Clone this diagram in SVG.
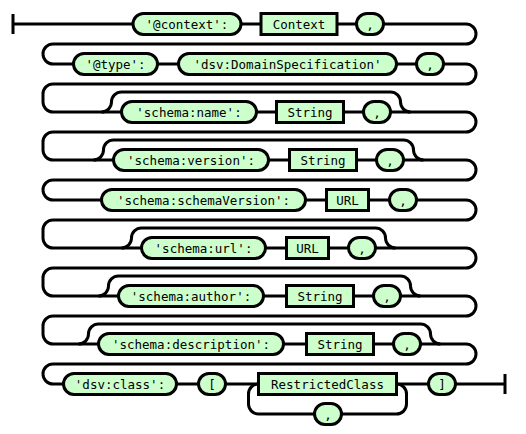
<svg xmlns="http://www.w3.org/2000/svg" width="526" height="434" viewBox="0 0 526 434">
<style>
.c path{fill:none;stroke:#000;stroke-width:3}
.t rect,.n rect{fill:#ccffcc;stroke:#000;stroke-width:3}
text{font-family:"DejaVu Sans Mono","Liberation Mono",monospace;font-size:12.5px;fill:#000;text-anchor:middle}
</style>
<rect width="526" height="434" fill="#fff"/>
<g id="connectors" class="c">
<path d="M13,14 V34 M505,374 V394"/>
<path d="M13,24 H466 a10,10 0 0 1 10,10 a10,10 0 0 1 -10,10 H53 a10,10 0 0 0 -10,10 a10,10 0 0 0 10,10
H466 a10,10 0 0 1 10,10 a10,10 0 0 1 -10,10 H53 a10,10 0 0 0 -10,10 V102 a10,10 0 0 0 10,10
H466 a10,10 0 0 1 10,10 a10,10 0 0 1 -10,10 H53 a10,10 0 0 0 -10,10 V150 a10,10 0 0 0 10,10
H466 a10,10 0 0 1 10,10 a10,10 0 0 1 -10,10 H53 a10,10 0 0 0 -10,10 a10,10 0 0 0 10,10
H466 a10,10 0 0 1 10,10 a10,10 0 0 1 -10,10 H53 a10,10 0 0 0 -10,10 V238 a10,10 0 0 0 10,10
H466 a10,10 0 0 1 10,10 a10,10 0 0 1 -10,10 H53 a10,10 0 0 0 -10,10 V286 a10,10 0 0 0 10,10
H466 a10,10 0 0 1 10,10 a10,10 0 0 1 -10,10 H53 a10,10 0 0 0 -10,10 V334 a10,10 0 0 0 10,10
H466 a10,10 0 0 1 10,10 a10,10 0 0 1 -10,10 H53 a10,10 0 0 0 -10,10 a10,10 0 0 0 10,10
H505"/>
<path d="M101.5,112 a10,10 0 0 0 10,-10 a10,10 0 0 1 10,-10 H390.5 a10,10 0 0 1 10,10 a10,10 0 0 0 10,10"/>
<path d="M93.5,160 a10,10 0 0 0 10,-10 a10,10 0 0 1 10,-10 H403.5 a10,10 0 0 1 10,10 a10,10 0 0 0 10,10"/>
<path d="M121.5,248 a10,10 0 0 0 10,-10 a10,10 0 0 1 10,-10 H375.5 a10,10 0 0 1 10,10 a10,10 0 0 0 10,10"/>
<path d="M98.5,296 a10,10 0 0 0 10,-10 a10,10 0 0 1 10,-10 H400.5 a10,10 0 0 1 10,10 a10,10 0 0 0 10,10"/>
<path d="M78.5,344 a10,10 0 0 0 10,-10 a10,10 0 0 1 10,-10 H420.5 a10,10 0 0 1 10,10 a10,10 0 0 0 10,10"/>
<path d="M396.5,384 a10,10 0 0 1 10,10 V404 a10,10 0 0 1 -10,10 H258.5 a10,10 0 0 1 -10,-10 V394 a10,10 0 0 1 10,-10"/>
</g>
<g id="n-context-key" class="t"><rect x="133" y="13.5" width="108" height="21" rx="10.5"/><text x="187" y="28.5">'@context':</text></g>
<g id="n-context" class="n"><rect x="261" y="13.5" width="76" height="21"/><text x="299" y="28.5">Context</text></g>
<g id="n-comma1" class="t"><rect x="356.5" y="13.5" width="27" height="21" rx="10.5"/><text x="370" y="28.5">,</text></g>

<g id="n-type-key" class="t"><rect x="73.5" y="53.5" width="84" height="21" rx="10.5"/><text x="115.5" y="68.5">'@type':</text></g>
<g id="n-type-val" class="t"><rect x="178.5" y="53.5" width="218" height="21" rx="10.5"/><text x="287.5" y="68.5">'dsv:DomainSpecification'</text></g>
<g id="n-comma2" class="t"><rect x="416.5" y="53.5" width="27" height="21" rx="10.5"/><text x="430" y="68.5">,</text></g>

<g id="n-name-key" class="t"><rect x="121.5" y="101.5" width="135" height="21" rx="10.5"/><text x="189" y="116.5">'schema:name':</text></g>
<g id="n-name" class="n"><rect x="276.5" y="101.5" width="67" height="21"/><text x="310" y="116.5">String</text></g>
<g id="n-comma3" class="t"><rect x="363.5" y="101.5" width="27" height="21" rx="10.5"/><text x="377" y="116.5">,</text></g>

<g id="n-version-key" class="t"><rect x="113.5" y="149.5" width="155" height="21" rx="10.5"/><text x="191" y="164.5">'schema:version':</text></g>
<g id="n-version" class="n"><rect x="289.5" y="149.5" width="67" height="21"/><text x="323" y="164.5">String</text></g>
<g id="n-comma4" class="t"><rect x="376.5" y="149.5" width="27" height="21" rx="10.5"/><text x="390" y="164.5">,</text></g>

<g id="n-schemaversion-key" class="t"><rect x="101.5" y="189.5" width="204" height="21" rx="10.5"/><text x="203.5" y="204.5">'schema:schemaVersion':</text></g>
<g id="n-schemaversion" class="n"><rect x="326.5" y="189.5" width="42" height="21"/><text x="347.5" y="204.5">URL</text></g>
<g id="n-comma5" class="t"><rect x="389.5" y="189.5" width="27" height="21" rx="10.5"/><text x="403" y="204.5">,</text></g>

<g id="n-url-key" class="t"><rect x="141.5" y="237.5" width="124" height="21" rx="10.5"/><text x="203.5" y="252.5">'schema:url':</text></g>
<g id="n-url" class="n"><rect x="286.5" y="237.5" width="42" height="21"/><text x="307.5" y="252.5">URL</text></g>
<g id="n-comma6" class="t"><rect x="348.5" y="237.5" width="27" height="21" rx="10.5"/><text x="362" y="252.5">,</text></g>

<g id="n-author-key" class="t"><rect x="118.5" y="285.5" width="145" height="21" rx="10.5"/><text x="191" y="300.5">'schema:author':</text></g>
<g id="n-author" class="n"><rect x="286.5" y="285.5" width="67" height="21"/><text x="320" y="300.5">String</text></g>
<g id="n-comma7" class="t"><rect x="373.5" y="285.5" width="27" height="21" rx="10.5"/><text x="387" y="300.5">,</text></g>

<g id="n-description-key" class="t"><rect x="98.5" y="333.5" width="185" height="21" rx="10.5"/><text x="191" y="348.5">'schema:description':</text></g>
<g id="n-description" class="n"><rect x="306.5" y="333.5" width="67" height="21"/><text x="340" y="348.5">String</text></g>
<g id="n-comma8" class="t"><rect x="393.5" y="333.5" width="27" height="21" rx="10.5"/><text x="407" y="348.5">,</text></g>

<g id="n-class-key" class="t"><rect x="63.5" y="373.5" width="113" height="21" rx="10.5"/><text x="120" y="388.5">'dsv:class':</text></g>
<g id="n-open" class="t"><rect x="198.5" y="373.5" width="27" height="21" rx="10.5"/><text x="212" y="388.5">[</text></g>
<g id="n-restrictedclass" class="n"><rect x="258.5" y="373.5" width="138" height="21"/><text x="327.5" y="388.5">RestrictedClass</text></g>
<g id="n-comma9" class="t"><rect x="314.5" y="403.5" width="27" height="21" rx="10.5"/><text x="328" y="418.5">,</text></g>
<g id="n-close" class="t"><rect x="428.5" y="373.5" width="27" height="21" rx="10.5"/><text x="442" y="388.5">]</text></g>
</svg>
